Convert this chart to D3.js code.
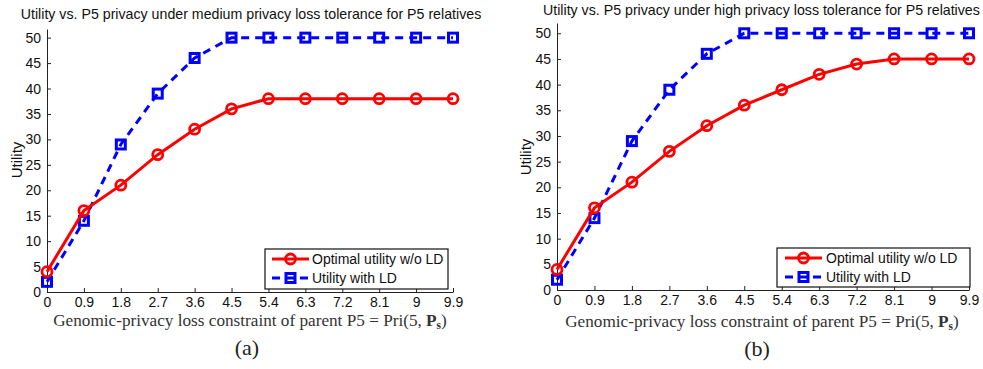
<!DOCTYPE html>
<html>
<head>
<meta charset="utf-8">
<script src="https://cdn.jsdelivr.net/npm/d3@7/dist/d3.min.js"></script>
<style>
  html, body { margin: 0; padding: 0; background: #fff; }
  svg { display: block; }
</style>
</head>
<body>
<svg id="chart" width="983" height="369"></svg>
<script>
// Privacy-loss constraint values on the x axis
const constraints = [0, 0.9, 1.8, 2.7, 3.6, 4.5, 5.4, 6.3, 7.2, 8.1, 9, 9.9];
const xTickLabels = ["0", "0.9", "1.8", "2.7", "3.6", "4.5", "5.4", "6.3", "7.2", "8.1", "9", "9.9"];
const yTicks = [0, 5, 10, 15, 20, 25, 30, 35, 40, 45, 50];

// (a) medium privacy loss tolerance
const optimalMedium = [4, 16, 21, 27, 32, 36, 38, 38, 38, 38, 38, 38];
const withLDMedium  = [2, 14, 29, 39, 46, 50, 50, 50, 50, 50, 50, 50];
// (b) high privacy loss tolerance
const optimalHigh = [4, 16, 21, 27, 32, 36, 39, 42, 44, 45, 45, 45];
const withLDHigh  = [2, 14, 29, 39, 46, 50, 50, 50, 50, 50, 50, 50];

const seriesNames = ["Optimal utility w/o LD", "Utility with LD"];
const titles = [
  "Utility vs. P5 privacy under medium privacy loss tolerance for P5 relatives",
  "Utility vs. P5 privacy under high privacy loss tolerance for P5 relatives"
];
const captions = ["(a)", "(b)"];

const svg = d3.select("#chart");
const sans = "'Liberation Sans', Arial, sans-serif";
const serif = "'Liberation Serif', 'DejaVu Serif', serif";
const RED = "#ff0000", BLUE = "#0000ff";

const panels = [
  { x0: 47, x1: 453, yBase: 292, yTop: 29, yMax: 51.7,
    title: titles[0], titleX: 251, titleY: 19, titleAnchor: "middle",
    ylabX: 17, ylabY: 160, xlabX: 250, xlabY: 326, capX: 247, capY: 355,
    legend: { x: 265, y: 249, w: 183, h: 40, lx0: 272, lx1: 309, tx: 312, r1: 259, r2: 278 },
    optimal: optimalMedium, withLD: withLDMedium, caption: captions[0] },
  { x0: 557, x1: 969, yBase: 290, yTop: 23, yMax: 52,
    title: titles[1], titleX: 543, titleY: 15, titleAnchor: "start",
    ylabX: 526, ylabY: 157, xlabX: 762, xlabY: 327, capX: 757, capY: 356,
    legend: { x: 777, y: 248, w: 193, h: 39, lx0: 785, lx1: 822, tx: 826, r1: 258, r2: 277 },
    optimal: optimalHigh, withLD: withLDHigh, caption: captions[1] }
];

panels.forEach(p => {
  const g = svg.append("g");
  const x = d3.scaleLinear().domain([0, 9.9]).range([p.x0, p.x1]);
  const y = d3.scaleLinear().domain([0, p.yMax]).range([p.yBase, p.yTop]);

  // Axes with inward ticks
  const xAxis = d3.axisBottom(x).tickValues(constraints)
    .tickFormat((d, i) => xTickLabels[i]).tickSizeInner(-4).tickSizeOuter(0).tickPadding(7);
  const yAxis = d3.axisLeft(y).tickValues(yTicks)
    .tickSizeInner(-4).tickSizeOuter(0).tickPadding(6);

  const gx = g.append("g").attr("transform", `translate(0,${p.yBase})`).call(xAxis);
  const gy = g.append("g").attr("transform", `translate(${p.x0},0)`).call(yAxis);
  [gx, gy].forEach(a => {
    a.select(".domain").attr("stroke", "#222").attr("stroke-width", 1);
    a.selectAll(".tick line").attr("stroke", "#222");
    a.selectAll(".tick text").attr("font-family", sans).attr("font-size", 14).attr("fill", "#111");
  });
  gx.selectAll(".tick text").attr("dy", "0.55em");

  // Title
  g.append("text").attr("x", p.titleX).attr("y", p.titleY)
    .attr("text-anchor", p.titleAnchor).attr("font-family", sans).attr("font-size", 14.2)
    .attr("fill", "#111").text(p.title);

  // Y label
  g.append("text").attr("transform", `translate(${p.ylabX},${p.ylabY}) rotate(-90)`)
    .attr("text-anchor", "middle").attr("dy", "0.35em")
    .attr("font-family", sans).attr("font-size", 15).attr("fill", "#111").text("Utility");

  // X label (with bold P and subscript s)
  const xl = g.append("text").attr("x", p.xlabX).attr("y", p.xlabY)
    .attr("text-anchor", "middle").attr("font-family", serif).attr("font-size", 17.2)
    .attr("fill", "#333");
  xl.append("tspan").text("Genomic-privacy loss constraint of parent P5 = Pri(5, ");
  xl.append("tspan").attr("font-weight", "bold").text("P");
  xl.append("tspan").attr("font-weight", "bold").attr("font-size", 11.5).attr("dy", 3).text("s");
  xl.append("tspan").attr("dy", -3).text(")");

  // Caption
  g.append("text").attr("x", p.capX).attr("y", p.capY).attr("text-anchor", "middle")
    .attr("font-family", serif).attr("font-size", 22).attr("fill", "#222").text(p.caption);

  const line = d3.line().x((d, i) => x(constraints[i])).y(d => y(d));

  // Blue dashed series with squares
  g.append("path").datum(p.withLD).attr("d", line).attr("fill", "none")
    .attr("stroke", BLUE).attr("stroke-width", 3).attr("stroke-dasharray", "8,6");
  g.selectAll(".sq").data(p.withLD).enter().append("rect")
    .attr("x", (d, i) => x(constraints[i]) - 4.5).attr("y", d => y(d) - 4.5)
    .attr("width", 9).attr("height", 9).attr("fill", "none")
    .attr("stroke", BLUE).attr("stroke-width", 3);

  // Red solid series with circles
  g.append("path").datum(p.optimal).attr("d", line).attr("fill", "none")
    .attr("stroke", RED).attr("stroke-width", 3);
  g.selectAll(".ci").data(p.optimal).enter().append("circle")
    .attr("cx", (d, i) => x(constraints[i])).attr("cy", d => y(d)).attr("r", 5)
    .attr("fill", "none").attr("stroke", RED).attr("stroke-width", 2.8);

  // Legend
  const L = p.legend;
  const lg = g.append("g");
  lg.append("rect").attr("x", L.x).attr("y", L.y).attr("width", L.w).attr("height", L.h)
    .attr("fill", "#fff").attr("stroke", "#111").attr("stroke-width", 1.2);
  const mid = (L.lx0 + L.lx1) / 2;
  lg.append("line").attr("x1", L.lx0).attr("x2", L.lx1).attr("y1", L.r1).attr("y2", L.r1)
    .attr("stroke", RED).attr("stroke-width", 3);
  lg.append("circle").attr("cx", mid).attr("cy", L.r1).attr("r", 5)
    .attr("fill", "none").attr("stroke", RED).attr("stroke-width", 2.8);
  lg.append("line").attr("x1", L.lx0).attr("x2", L.lx1).attr("y1", L.r2).attr("y2", L.r2)
    .attr("stroke", BLUE).attr("stroke-width", 3).attr("stroke-dasharray", "8,6");
  lg.append("rect").attr("x", mid - 4.5).attr("y", L.r2 - 4.5).attr("width", 9).attr("height", 9)
    .attr("fill", "none").attr("stroke", BLUE).attr("stroke-width", 3);
  [L.r1, L.r2].forEach((ry, i) => {
    lg.append("text").attr("x", L.tx).attr("y", ry).attr("dy", "0.36em")
      .attr("font-family", sans).attr("font-size", 14).attr("fill", "#111").text(seriesNames[i]);
  });
});
</script>
</body>
</html>
